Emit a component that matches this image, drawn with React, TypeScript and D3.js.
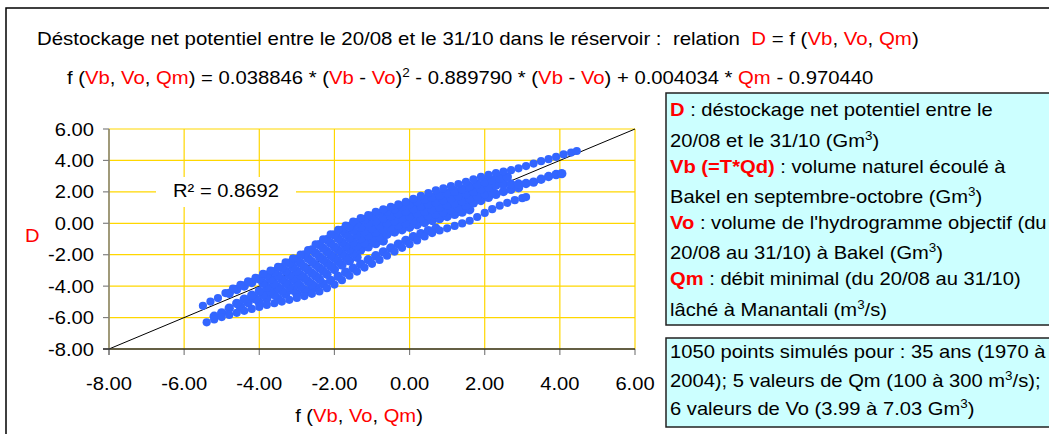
import React from 'react';
import * as d3 from 'd3';

const W = 1049;
const H = 434;
const FONT = 'Liberation Sans, Arial, Helvetica, sans-serif';
const FS = 18;
const SX = 1.12;
const RED = '#FF0000';
const BLUE = '#3366FF';
const GRID = '#FFD700';

const ticks = [-8, -6, -4, -2, 0, 2, 4, 6];
const r2Label = 'R² = 0.8692';
const trend: [number, number][] = [[-8, -8], [6, 6]];

const rowA: [number, number][] = [
  [-5.5, -5.25], [-5.3, -4.98], [-5.1, -4.76], [-4.9, -4.44], [-4.7, -4.16], [-4.5, -3.92], [-4.3, -3.7],
  [-4.1, -3.48], [-3.9, -3.22], [-3.7, -3.01], [-3.5, -2.78], [-3.3, -2.49], [-3.1, -2.23], [-2.9, -2.0],
  [-2.7, -1.7], [-2.5, -1.34], [-2.3, -1.02], [-2.1, -0.71], [-1.9, -0.41], [-1.7, -0.14], [-1.5, 0.11],
  [-1.3, 0.33], [-1.1, 0.52], [-0.9, 0.73], [-0.7, 0.89], [-0.5, 1.04], [-0.3, 1.2], [-0.1, 1.36],
  [0.1, 1.55], [0.3, 1.74], [0.5, 1.92], [0.7, 2.1], [0.9, 2.23], [1.1, 2.36], [1.3, 2.5], [1.5, 2.64],
  [1.7, 2.8], [1.9, 2.95], [2.1, 3.08], [2.3, 3.2], [2.5, 3.29], [2.7, 3.38], [2.9, 3.5], [3.1, 3.64],
  [3.3, 3.8], [3.5, 3.95], [3.7, 4.08], [3.9, 4.22], [4.1, 4.38], [4.3, 4.5], [4.45, 4.6],
];
const rowR1: [number, number][] = [
  [-4.8, -4.46], [-4.6, -4.21], [-4.4, -3.99], [-4.2, -3.77], [-4.0, -3.54], [-3.8, -3.3], [-3.6, -3.08],
  [-3.4, -2.82], [-3.2, -2.54], [-3.0, -2.3], [-2.8, -2.02], [-2.6, -1.69], [-2.4, -1.36], [-2.2, -1.05],
  [-2.0, -0.74], [-1.8, -0.46], [-1.6, -0.2], [-1.4, 0.04], [-1.2, 0.25], [-1.0, 0.45], [-0.8, 0.63],
  [-0.6, 0.79], [-0.4, 0.93], [-0.2, 1.08], [0.0, 1.23], [0.2, 1.39], [0.4, 1.54], [0.6, 1.66], [0.8, 1.79],
  [1.0, 1.92], [1.2, 2.05], [1.4, 2.19], [1.6, 2.34], [1.8, 2.5], [2.0, 2.64], [2.2, 2.76], [2.4, 2.87],
  [2.6, 2.95],
];
const rowR2: [number, number][] = [
  [-3.9, -3.8], [-3.7, -3.57], [-3.5, -3.33], [-3.3, -3.05], [-3.1, -2.79], [-2.9, -2.54], [-2.7, -2.24],
  [-2.5, -1.9], [-2.3, -1.58], [-2.1, -1.27], [-1.9, -0.97], [-1.7, -0.7], [-1.5, -0.45], [-1.3, -0.23],
  [-1.1, -0.03], [-0.9, 0.15], [-0.7, 0.33], [-0.5, 0.48], [-0.3, 0.62], [-0.1, 0.77], [0.1, 0.93],
  [0.3, 1.09], [0.5, 1.22], [0.7, 1.35], [0.9, 1.48], [1.1, 1.6], [1.3, 1.74], [1.5, 1.88], [1.7, 2.03],
  [1.9, 2.18], [2.1, 2.32], [2.3, 2.42], [2.5, 2.48], [2.7, 2.5], [2.9, 2.5], [3.1, 2.53], [3.3, 2.62],
  [3.5, 2.8], [3.7, 2.98], [3.9, 3.1], [4.05, 3.16],
];
const rowR3: [number, number][] = [
  [-5.2, -5.92], [-5.0, -5.7], [-4.8, -5.4], [-4.6, -5.1], [-4.4, -4.83], [-4.2, -4.58], [-4.0, -4.32],
  [-3.8, -4.06], [-3.6, -3.83], [-3.4, -3.57], [-3.2, -3.3], [-3.0, -3.05], [-2.8, -2.78], [-2.6, -2.45],
  [-2.4, -2.12], [-2.2, -1.8], [-2.0, -1.5], [-1.8, -1.21], [-1.6, -0.95], [-1.4, -0.72], [-1.2, -0.51],
  [-1.0, -0.31], [-0.8, -0.13], [-0.6, 0.02], [-0.4, 0.17], [-0.2, 0.31], [0.0, 0.47], [0.2, 0.63],
  [0.4, 0.77], [0.6, 0.9], [0.8, 1.02], [1.0, 1.15], [1.2, 1.29], [1.4, 1.43], [1.6, 1.58], [1.8, 1.73],
  [2.0, 1.88], [2.2, 2.0],
];
const rowR4: [number, number][] = [
  [-4.5, -5.33], [-4.3, -5.06], [-4.1, -4.82], [-3.9, -4.54], [-3.7, -4.31], [-3.5, -4.08], [-3.3, -3.79],
  [-3.1, -3.53], [-2.9, -3.3], [-2.7, -2.98], [-2.5, -2.64], [-2.3, -2.32], [-2.1, -2.01], [-1.9, -1.71],
  [-1.7, -1.44], [-1.5, -1.19], [-1.3, -0.97], [-1.1, -0.78], [-0.9, -0.57], [-0.7, -0.41], [-0.5, -0.26],
  [-0.3, -0.12], [-0.1, 0.03], [0.1, 0.19], [0.3, 0.35], [0.5, 0.48], [0.7, 0.6], [0.9, 0.73], [1.1, 0.86],
  [1.3, 1.0], [1.5, 1.14], [1.7, 1.3], [1.9, 1.45], [2.1, 1.65], [2.3, 1.84], [2.5, 2.02], [2.7, 2.16],
  [2.9, 2.26],
];
const rowR5: [number, number][] = [
  [-4.0, -5.04], [-3.8, -4.78], [-3.6, -4.55], [-3.4, -4.29], [-3.2, -4.02], [-3.0, -3.77], [-2.8, -3.5],
  [-2.6, -3.17], [-2.4, -2.84], [-2.2, -2.52], [-2.0, -2.22], [-1.8, -1.93], [-1.6, -1.67], [-1.4, -1.44],
  [-1.2, -1.23], [-1.0, -1.03], [-0.8, -0.85], [-0.6, -0.7], [-0.4, -0.55], [-0.2, -0.41], [0.0, -0.25],
  [0.2, -0.09], [0.4, 0.05], [0.6, 0.18], [0.8, 0.3], [1.0, 0.43], [1.2, 0.57], [1.4, 0.71], [1.6, 0.86],
];
const rowR6: [number, number][] = [
  [-3.5, -4.8], [-3.3, -4.51], [-3.1, -4.25], [-2.9, -4.02], [-2.7, -3.7], [-2.5, -3.36], [-2.3, -3.04],
  [-2.1, -2.73], [-1.9, -2.43], [-1.7, -2.16], [-1.5, -1.91], [-1.3, -1.69], [-1.1, -1.5], [-0.9, -1.29],
  [-0.7, -1.13],
];
const rowR7: [number, number][] = [
  [-3.0, -4.49], [-2.8, -4.22], [-2.6, -3.89], [-2.4, -3.56], [-2.2, -3.24], [-2.0, -2.94], [-1.8, -2.65],
  [-1.6, -2.39], [-1.4, -2.16],
];
const rowL2: [number, number][] = [
  [-2.7, -4.32], [-2.5, -4.08], [-2.3, -3.86], [-2.1, -3.64], [-1.9, -3.38], [-1.7, -3.12], [-1.5, -2.86],
  [-1.3, -2.6], [-1.1, -2.32], [-0.9, -2.07], [-0.7, -1.82], [-0.5, -1.57], [-0.3, -1.33], [-0.1, -1.09],
  [0.1, -0.86], [0.3, -0.66], [0.5, -0.47], [0.7, -0.32],
];
const rowL1: [number, number][] = [
  [-5.4, -6.3], [-5.2, -6.12], [-5.0, -5.97], [-4.8, -5.83], [-4.6, -5.7], [-4.4, -5.57], [-4.2, -5.45],
  [-4.0, -5.32], [-3.8, -5.2], [-3.6, -5.09], [-3.4, -4.98], [-3.2, -4.87], [-3.0, -4.75], [-2.8, -4.63],
  [-2.6, -4.49], [-2.4, -4.34], [-2.2, -4.13], [-2.0, -3.9], [-1.8, -3.62], [-1.6, -3.34], [-1.4, -3.07],
  [-1.2, -2.82], [-1.0, -2.58], [-0.8, -2.33], [-0.6, -2.06], [-0.4, -1.8], [-0.2, -1.56], [0.0, -1.33],
  [0.2, -1.09], [0.4, -0.84], [0.6, -0.62], [0.8, -0.46], [1.0, -0.32], [1.2, -0.17], [1.4, -0.01],
  [1.6, 0.16], [1.8, 0.4], [2.0, 0.66], [2.2, 0.9], [2.4, 1.12], [2.6, 1.3], [2.8, 1.47], [3.0, 1.6],
  [3.1, 1.67],
];
// edge rows keep the true dot size, inner rows are drawn a bit fuller so the cloud reads as solid
const edgeRows = [rowL1, rowA];
const innerRows = [rowL2, rowR7, rowR6, rowR5, rowR4, rowR3, rowR2, rowR1];

type Seg = { t: string; red?: boolean; bold?: boolean; sup?: boolean };

const title1: Seg[] = [
  { t: 'Déstockage net potentiel entre le 20/08 et le 31/10 dans le réservoir :  relation  ' },
  { t: 'D', red: true }, { t: ' = f (' }, { t: 'Vb', red: true }, { t: ', ' }, { t: 'Vo', red: true },
  { t: ', ' }, { t: 'Qm', red: true }, { t: ')' },
];
const title2: Seg[] = [
  { t: 'f (' }, { t: 'Vb', red: true }, { t: ', ' }, { t: 'Vo', red: true }, { t: ', ' }, { t: 'Qm', red: true },
  { t: ') = 0.038846 * (' }, { t: 'Vb', red: true }, { t: ' - ' }, { t: 'Vo', red: true }, { t: ')' },
  { t: '2', sup: true }, { t: ' - 0.889790 * (' }, { t: 'Vb', red: true }, { t: ' - ' }, { t: 'Vo', red: true },
  { t: ') + 0.004034 * ' }, { t: 'Qm', red: true }, { t: ' - 0.970440' },
];
const xTitle: Seg[] = [
  { t: 'f (' }, { t: 'Vb', red: true }, { t: ', ' }, { t: 'Vo', red: true }, { t: ', ' }, { t: 'Qm', red: true }, { t: ')' },
];
const legendLines: Seg[][] = [
  [{ t: 'D', red: true, bold: true }, { t: ' : déstockage net potentiel entre le' }],
  [{ t: '20/08 et le 31/10 (Gm' }, { t: '3', sup: true }, { t: ')' }],
  [{ t: 'Vb (=T*Qd)', red: true, bold: true }, { t: ' : volume naturel écoulé à' }],
  [{ t: 'Bakel en septembre-octobre (Gm' }, { t: '3', sup: true }, { t: ')' }],
  [{ t: 'Vo', red: true, bold: true }, { t: " : volume de l'hydrogramme objectif (du" }],
  [{ t: '20/08 au 31/10) à Bakel (Gm' }, { t: '3', sup: true }, { t: ')' }],
  [{ t: 'Qm', red: true, bold: true }, { t: ' : débit minimal (du 20/08 au 31/10)' }],
  [{ t: 'lâché à Manantali (m' }, { t: '3', sup: true }, { t: '/s)' }],
];
const legendBaselines = [115.5, 146.5, 173, 203, 229, 259, 285, 315.5];
const noteLines: Seg[][] = [
  [{ t: '1050 points simulés pour : 35 ans (1970 à' }],
  [{ t: '2004); 5 valeurs de Qm (100 à 300 m' }, { t: '3', sup: true }, { t: '/s);' }],
  [{ t: '6 valeurs de Vo (3.99 à 7.03 Gm' }, { t: '3', sup: true }, { t: ')' }],
];
const noteBaselines = [358, 386.5, 415];

function Rich({ x, y, segs, anchor = 'start', sx = SX }: { x: number; y: number; segs: Seg[]; anchor?: string; sx?: number }) {
  let up = false;
  return (
    <text
      transform={`translate(${x},${y}) scale(${sx},1)`}
      fontFamily={FONT}
      fontSize={FS}
      textAnchor={anchor}
      style={{ whiteSpace: 'pre' }}
    >
      {segs.map((s, i) => {
        let dy = 0;
        if (s.sup && !up) { dy = -7; up = true; }
        else if (!s.sup && up) { dy = 7; up = false; }
        return (
          <tspan
            key={i}
            dy={dy || undefined}
            fill={s.red ? RED : '#000'}
            fontWeight={s.bold ? 'bold' : undefined}
            fontSize={s.sup ? 12 : undefined}
          >
            {s.t}
          </tspan>
        );
      })}
    </text>
  );
}

export default function App() {
  const x = d3.scaleLinear().domain([-8, 6]).range([109, 635]);
  const y = d3.scaleLinear().domain([-8, 6]).range([349, 129]);
  const fmt = d3.formatLocale({ decimal: '.', thousands: ',', grouping: [3], currency: ['', ''], minus: '-' }).format('.2f');
  const trendPath = d3.line<[number, number]>().x(d => x(d[0])).y(d => y(d[1]))(trend) || '';
  const [x0, x1] = x.range();
  const [y0, y1] = y.range();

  return (
    <svg width={W} height={H} style={{ position: 'absolute', left: 0, top: 0, background: '#fff' }}>
      <rect x={6} y={8} width={W + 10} height={H + 10} fill="#fff" stroke="#000" strokeWidth={1.5} />

      <Rich x={37} y={45} segs={title1} sx={1.135} />
      <Rich x={67} y={84} segs={title2} sx={1.127} />

      {/* grid */}
      <g stroke={GRID} strokeWidth={1.2}>
        {ticks.map(t => <line key={'gx' + t} x1={x(t)} x2={x(t)} y1={y1} y2={y0} />)}
        {ticks.map(t => <line key={'gy' + t} x1={x0} x2={x1} y1={y(t)} y2={y(t)} />)}
      </g>

      <path d={trendPath} stroke="#000" strokeWidth={1} fill="none" />

      <g fill={BLUE}>
        {innerRows.flat().map((p, i) => <circle key={'i' + i} cx={x(p[0])} cy={y(p[1])} r={4.7} />)}
        {edgeRows.flat().map((p, i) => <circle key={'e' + i} cx={x(p[0])} cy={y(p[1])} r={4.1} />)}
      </g>

      {/* axes */}
      <line x1={x0} x2={x0} y1={y1} y2={y0 + 6} stroke="#808080" strokeWidth={1.5} />
      {ticks.map(t => <line key={'ty' + t} x1={x0 - 6} x2={x0} y1={y(t)} y2={y(t)} stroke="#808080" strokeWidth={1.2} />)}
      {ticks.map(t => <line key={'tx' + t} x1={x(t)} x2={x(t)} y1={y0} y2={y0 + 6} stroke="#808080" strokeWidth={1.2} />)}
      <line x1={x0 - 6} x2={x1} y1={y0} y2={y0} stroke="#303030" strokeWidth={1.5} />

      {ticks.map(t => (
        <text key={'ly' + t} transform={`translate(94,${y(t) + 6.5}) scale(${SX},1)`} textAnchor="end"
          fontFamily={FONT} fontSize={FS}>{fmt(t)}</text>
      ))}
      {ticks.map(t => (
        <text key={'lx' + t} transform={`translate(${x(t)},390) scale(${SX},1)`} textAnchor="middle"
          fontFamily={FONT} fontSize={FS}>{fmt(t)}</text>
      ))}

      <Rich x={359} y={422} segs={xTitle} anchor="middle" />
      <Rich x={25} y={242} segs={[{ t: 'D', red: true }]} />

      <rect x={156} y={177} width={140} height={30} fill="#fff" />
      <text transform={`translate(226,197) scale(${SX},1)`} textAnchor="middle" fontFamily={FONT} fontSize={FS}>{r2Label}</text>

      <rect x={666} y={93} width={420} height={232} fill="#CCFFFF" stroke="#222" strokeWidth={1.5} />
      {legendLines.map((l, i) => <Rich key={'lg' + i} x={670} y={legendBaselines[i]} segs={l} />)}

      <rect x={666} y={338} width={420} height={89} fill="#CCFFFF" stroke="#222" strokeWidth={1.5} />
      {noteLines.map((l, i) => <Rich key={'nt' + i} x={670} y={noteBaselines[i]} segs={l} />)}
    </svg>
  );
}
